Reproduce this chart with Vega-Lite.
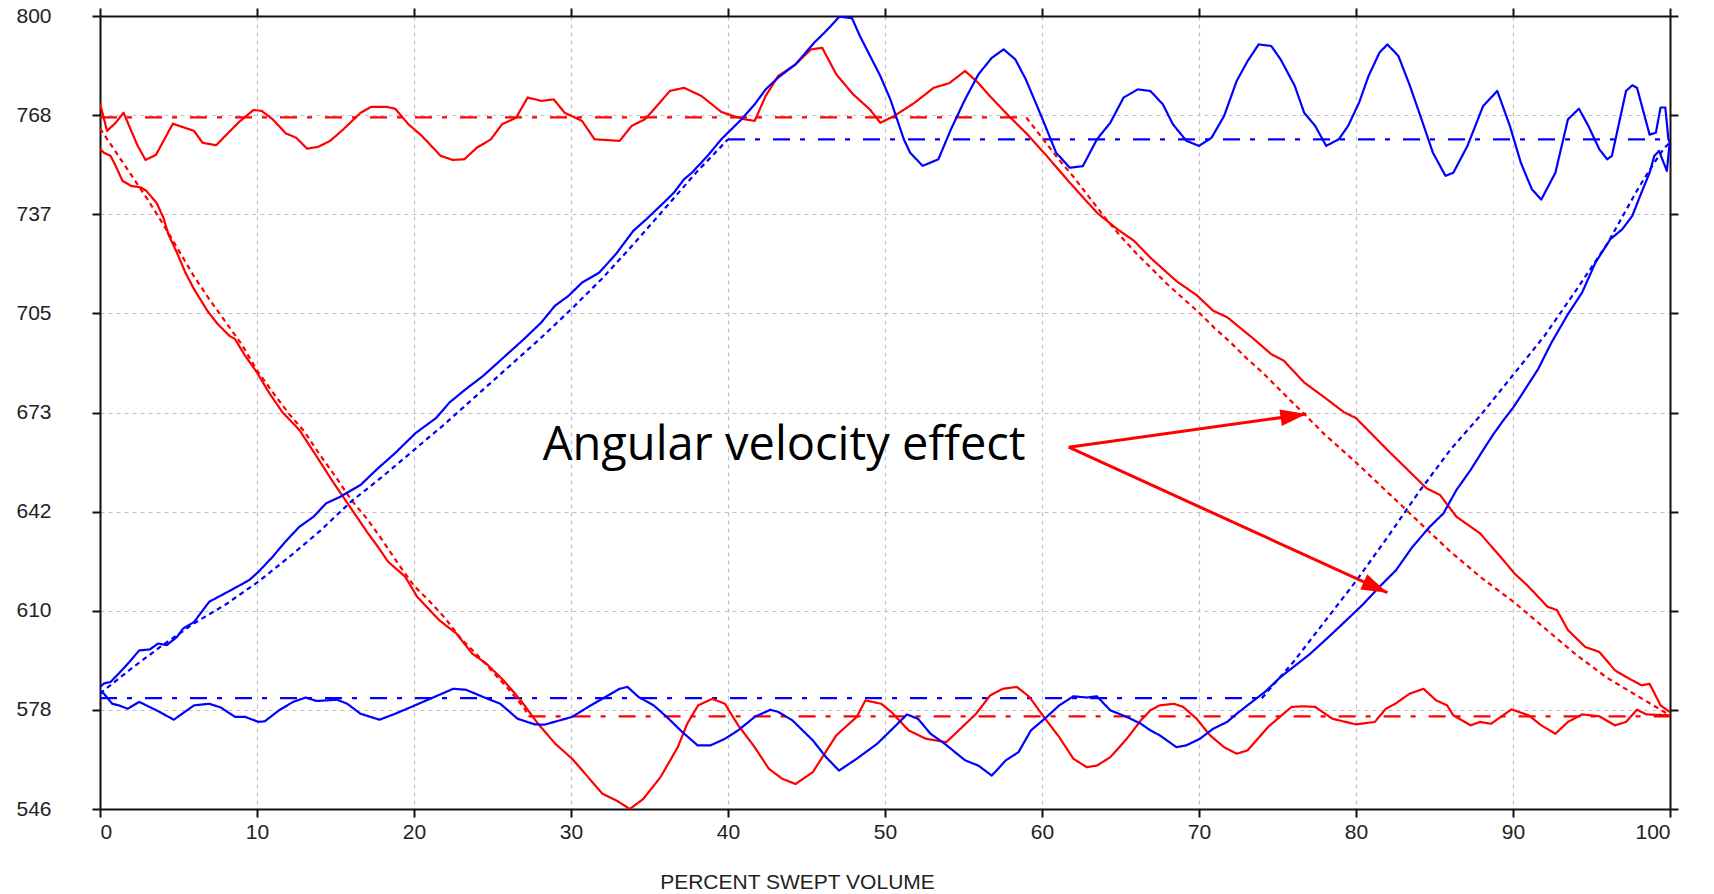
{
  "$schema": "https://vega.github.io/schema/vega-lite/v6.json",
  "width": 1570,
  "height": 793,
  "autosize": {"type": "none"},
  "padding": {"left": 100, "top": 16, "right": 44, "bottom": 85},
  "background": "white",
  "config": {
    "view": {"stroke": null},
    "axis": {
      "labelFont": "Liberation Sans",
      "labelFontSize": 21,
      "labelColor": "#222222",
      "titleFont": "Liberation Sans",
      "titleFontSize": 21,
      "titleFontWeight": "normal",
      "titleColor": "#222222",
      "domainColor": "#111111",
      "domainWidth": 2,
      "tickColor": "#111111",
      "tickWidth": 2,
      "tickSize": 8,
      "gridColor": "#c0c0c0",
      "gridDash": [4, 4],
      "gridWidth": 1.2
    }
  },
  "resolve": {"axis": {"x": "independent", "y": "independent"}},
  "layer": [
    {
      "data": {
        "values": [
          {"t": "R-hi", "x": 0, "y": 767.5}, {"t": "R-hi", "x": 59, "y": 767.5},
          {"t": "R-lo", "x": 27.3, "y": 575.7}, {"t": "R-lo", "x": 100, "y": 575.7},
          {"t": "B-hi", "x": 40, "y": 760.5}, {"t": "B-hi", "x": 100, "y": 760.5},
          {"t": "B-lo", "x": 0, "y": 581.5}, {"t": "B-lo", "x": 74, "y": 581.5},

          {"t": "R-r1", "x": 0, "y": 764}, {"t": "R-r1", "x": 1, "y": 756.5}, {"t": "R-r1", "x": 2, "y": 749},
          {"t": "R-r1", "x": 3, "y": 741.5}, {"t": "R-r1", "x": 4, "y": 733.5}, {"t": "R-r1", "x": 5, "y": 725},
          {"t": "R-r1", "x": 6, "y": 716.5}, {"t": "R-r1", "x": 7, "y": 709}, {"t": "R-r1", "x": 8, "y": 702},
          {"t": "R-r1", "x": 9, "y": 695}, {"t": "R-r1", "x": 10, "y": 686.5}, {"t": "R-r1", "x": 11, "y": 679.5},
          {"t": "R-r1", "x": 12, "y": 672.8}, {"t": "R-r1", "x": 13, "y": 667}, {"t": "R-r1", "x": 14, "y": 659.5},
          {"t": "R-r1", "x": 15, "y": 652.5}, {"t": "R-r1", "x": 16, "y": 645}, {"t": "R-r1", "x": 17, "y": 639},
          {"t": "R-r1", "x": 18, "y": 632}, {"t": "R-r1", "x": 19, "y": 624.5}, {"t": "R-r1", "x": 20, "y": 617.5},
          {"t": "R-r1", "x": 21, "y": 612.5}, {"t": "R-r1", "x": 22, "y": 607}, {"t": "R-r1", "x": 23, "y": 600.5},
          {"t": "R-r1", "x": 24, "y": 595.5}, {"t": "R-r1", "x": 25, "y": 590}, {"t": "R-r1", "x": 26, "y": 584.5},
          {"t": "R-r1", "x": 27, "y": 578.5}, {"t": "R-r1", "x": 27.3, "y": 575.7},

          {"t": "R-r2", "x": 59, "y": 767.5}, {"t": "R-r2", "x": 60, "y": 761}, {"t": "R-r2", "x": 61, "y": 754.5},
          {"t": "R-r2", "x": 62, "y": 748.5}, {"t": "R-r2", "x": 63, "y": 742}, {"t": "R-r2", "x": 64, "y": 735.5},
          {"t": "R-r2", "x": 65, "y": 729.5}, {"t": "R-r2", "x": 66, "y": 724}, {"t": "R-r2", "x": 67, "y": 719},
          {"t": "R-r2", "x": 68, "y": 714}, {"t": "R-r2", "x": 69, "y": 709.5}, {"t": "R-r2", "x": 70, "y": 705},
          {"t": "R-r2", "x": 71, "y": 700}, {"t": "R-r2", "x": 72, "y": 695.5}, {"t": "R-r2", "x": 73, "y": 690.5},
          {"t": "R-r2", "x": 74, "y": 686}, {"t": "R-r2", "x": 75, "y": 681}, {"t": "R-r2", "x": 76, "y": 676},
          {"t": "R-r2", "x": 77, "y": 671}, {"t": "R-r2", "x": 78, "y": 666}, {"t": "R-r2", "x": 79, "y": 661.5},
          {"t": "R-r2", "x": 80, "y": 657}, {"t": "R-r2", "x": 82, "y": 647.5}, {"t": "R-r2", "x": 84, "y": 638},
          {"t": "R-r2", "x": 86, "y": 628.5}, {"t": "R-r2", "x": 88, "y": 620}, {"t": "R-r2", "x": 90, "y": 612.5},
          {"t": "R-r2", "x": 92, "y": 604}, {"t": "R-r2", "x": 94, "y": 595.5}, {"t": "R-r2", "x": 96, "y": 588},
          {"t": "R-r2", "x": 98, "y": 582}, {"t": "R-r2", "x": 99, "y": 579}, {"t": "R-r2", "x": 100, "y": 576},

          {"t": "B-r1", "x": 0, "y": 583}, {"t": "B-r1", "x": 2, "y": 591}, {"t": "B-r1", "x": 4, "y": 598.5},
          {"t": "B-r1", "x": 6, "y": 605.5}, {"t": "B-r1", "x": 8, "y": 611.5}, {"t": "B-r1", "x": 10, "y": 618.5},
          {"t": "B-r1", "x": 12, "y": 626.5}, {"t": "B-r1", "x": 14, "y": 635}, {"t": "B-r1", "x": 16, "y": 644.5},
          {"t": "B-r1", "x": 18, "y": 652.5}, {"t": "B-r1", "x": 20, "y": 661}, {"t": "B-r1", "x": 22, "y": 669.5},
          {"t": "B-r1", "x": 24, "y": 678.5}, {"t": "B-r1", "x": 26, "y": 687.5}, {"t": "B-r1", "x": 28, "y": 696.5},
          {"t": "B-r1", "x": 30, "y": 706}, {"t": "B-r1", "x": 32, "y": 716}, {"t": "B-r1", "x": 34, "y": 727},
          {"t": "B-r1", "x": 36, "y": 738.5}, {"t": "B-r1", "x": 38, "y": 750}, {"t": "B-r1", "x": 40, "y": 760.5},

          {"t": "B-r2", "x": 74, "y": 581.5}, {"t": "B-r2", "x": 76, "y": 593}, {"t": "B-r2", "x": 78, "y": 606},
          {"t": "B-r2", "x": 80, "y": 619}, {"t": "B-r2", "x": 82, "y": 633}, {"t": "B-r2", "x": 84, "y": 647.5},
          {"t": "B-r2", "x": 86, "y": 661}, {"t": "B-r2", "x": 88, "y": 672.5}, {"t": "B-r2", "x": 90, "y": 685},
          {"t": "B-r2", "x": 92, "y": 697.5}, {"t": "B-r2", "x": 94, "y": 712}, {"t": "B-r2", "x": 96, "y": 727},
          {"t": "B-r2", "x": 98, "y": 745}, {"t": "B-r2", "x": 99, "y": 753}, {"t": "B-r2", "x": 99.6, "y": 757.5},
          {"t": "B-r2", "x": 100, "y": 759.5},

          {"t": "R-m1", "x": 0, "y": 772}, {"t": "R-m1", "x": 0.45, "y": 763.2}, {"t": "R-m1", "x": 1.0, "y": 765.8},
          {"t": "R-m1", "x": 1.5, "y": 769}, {"t": "R-m1", "x": 2.4, "y": 758.4}, {"t": "R-m1", "x": 2.9, "y": 753.9},
          {"t": "R-m1", "x": 3.56, "y": 755.5}, {"t": "R-m1", "x": 4.64, "y": 765.5}, {"t": "R-m1", "x": 5.99, "y": 763.2},
          {"t": "R-m1", "x": 6.53, "y": 759.4}, {"t": "R-m1", "x": 7.4, "y": 758.6}, {"t": "R-m1", "x": 8.8, "y": 765.8},
          {"t": "R-m1", "x": 9.78, "y": 769.9}, {"t": "R-m1", "x": 10.3, "y": 769.6}, {"t": "R-m1", "x": 11.0, "y": 766.9},
          {"t": "R-m1", "x": 11.84, "y": 762.4}, {"t": "R-m1", "x": 12.5, "y": 761}, {"t": "R-m1", "x": 13.19, "y": 757.5},
          {"t": "R-m1", "x": 13.9, "y": 758.1}, {"t": "R-m1", "x": 14.66, "y": 760}, {"t": "R-m1", "x": 15.5, "y": 763.7},
          {"t": "R-m1", "x": 16.6, "y": 769}, {"t": "R-m1", "x": 17.27, "y": 770.9}, {"t": "R-m1", "x": 18.24, "y": 770.9},
          {"t": "R-m1", "x": 18.8, "y": 770.3}, {"t": "R-m1", "x": 19.65, "y": 765.3}, {"t": "R-m1", "x": 20.5, "y": 761.6},
          {"t": "R-m1", "x": 21.7, "y": 755.2}, {"t": "R-m1", "x": 22.47, "y": 753.9}, {"t": "R-m1", "x": 23.2, "y": 754.1},
          {"t": "R-m1", "x": 24, "y": 757.8}, {"t": "R-m1", "x": 24.9, "y": 760.5}, {"t": "R-m1", "x": 25.6, "y": 765.3},
          {"t": "R-m1", "x": 26.5, "y": 767.4}, {"t": "R-m1", "x": 27.24, "y": 773.9}, {"t": "R-m1", "x": 28.1, "y": 772.8},
          {"t": "R-m1", "x": 28.9, "y": 773.3}, {"t": "R-m1", "x": 29.6, "y": 769}, {"t": "R-m1", "x": 30.7, "y": 766.4},
          {"t": "R-m1", "x": 31.5, "y": 760.5}, {"t": "R-m1", "x": 33.1, "y": 760}, {"t": "R-m1", "x": 33.86, "y": 764.8},
          {"t": "R-m1", "x": 34.7, "y": 766.9}, {"t": "R-m1", "x": 35.26, "y": 770}, {"t": "R-m1", "x": 36.3, "y": 776},
          {"t": "R-m1", "x": 37.2, "y": 777}, {"t": "R-m1", "x": 38.3, "y": 774.4}, {"t": "R-m1", "x": 39.57, "y": 769.3},
          {"t": "R-m1", "x": 40.43, "y": 767.8}, {"t": "R-m1", "x": 41.08, "y": 766.9}, {"t": "R-m1", "x": 41.7, "y": 766.4},
          {"t": "R-m1", "x": 42.4, "y": 774.4}, {"t": "R-m1", "x": 43.2, "y": 780.8}, {"t": "R-m1", "x": 44.3, "y": 784.5},
          {"t": "R-m1", "x": 45.28, "y": 789.3}, {"t": "R-m1", "x": 46, "y": 789.8}, {"t": "R-m1", "x": 46.9, "y": 781.3},
          {"t": "R-m1", "x": 47.97, "y": 774.9}, {"t": "R-m1", "x": 49.05, "y": 770}, {"t": "R-m1", "x": 49.7, "y": 765.8},
          {"t": "R-m1", "x": 50.56, "y": 767.9}, {"t": "R-m1", "x": 51.85, "y": 772.1}, {"t": "R-m1", "x": 53.1, "y": 777},
          {"t": "R-m1", "x": 54.1, "y": 778.5}, {"t": "R-m1", "x": 55.1, "y": 782.4}, {"t": "R-m1", "x": 55.95, "y": 778.5},
          {"t": "R-m1", "x": 56.8, "y": 773.7}, {"t": "R-m1", "x": 57.9, "y": 767.9}, {"t": "R-m1", "x": 58.97, "y": 762.6},
          {"t": "R-m1", "x": 60.3, "y": 755.2}, {"t": "R-m1", "x": 61.77, "y": 746.6}, {"t": "R-m1", "x": 63.5, "y": 737},
          {"t": "R-m1", "x": 64.8, "y": 731.7}, {"t": "R-m1", "x": 65.86, "y": 728}, {"t": "R-m1", "x": 66.9, "y": 722.6},
          {"t": "R-m1", "x": 68.56, "y": 715.1}, {"t": "R-m1", "x": 69.85, "y": 710.6}, {"t": "R-m1", "x": 70.9, "y": 705.6},
          {"t": "R-m1", "x": 71.8, "y": 703.5}, {"t": "R-m1", "x": 73.5, "y": 696.5}, {"t": "R-m1", "x": 74.6, "y": 691.7},
          {"t": "R-m1", "x": 75.4, "y": 689.6}, {"t": "R-m1", "x": 76.7, "y": 682.6}, {"t": "R-m1", "x": 78, "y": 677.8},
          {"t": "R-m1", "x": 79.2, "y": 673.2}, {"t": "R-m1", "x": 80, "y": 671.2}, {"t": "R-m1", "x": 82.1, "y": 660.5},
          {"t": "R-m1", "x": 83.3, "y": 654.6}, {"t": "R-m1", "x": 84.5, "y": 648.7}, {"t": "R-m1", "x": 85.35, "y": 646.6},
          {"t": "R-m1", "x": 86.4, "y": 639.6}, {"t": "R-m1", "x": 87.9, "y": 634.3}, {"t": "R-m1", "x": 89.2, "y": 626.8},
          {"t": "R-m1", "x": 90.1, "y": 621.4}, {"t": "R-m1", "x": 90.9, "y": 617.7}, {"t": "R-m1", "x": 92.2, "y": 610.8},
          {"t": "R-m1", "x": 92.8, "y": 609.7}, {"t": "R-m1", "x": 93.5, "y": 603.3}, {"t": "R-m1", "x": 94.6, "y": 597.9},
          {"t": "R-m1", "x": 95.5, "y": 596.3}, {"t": "R-m1", "x": 96.5, "y": 590.4}, {"t": "R-m1", "x": 97.2, "y": 588.3},
          {"t": "R-m1", "x": 98.2, "y": 585.6}, {"t": "R-m1", "x": 98.7, "y": 586.1}, {"t": "R-m1", "x": 99.4, "y": 579.2},
          {"t": "R-m1", "x": 100, "y": 577},

          {"t": "R-m2", "x": 0, "y": 757.5}, {"t": "R-m2", "x": 0.24, "y": 756.2}, {"t": "R-m2", "x": 0.67, "y": 755.2},
          {"t": "R-m2", "x": 1, "y": 752}, {"t": "R-m2", "x": 1.43, "y": 747.2}, {"t": "R-m2", "x": 1.97, "y": 745.6},
          {"t": "R-m2", "x": 2.6, "y": 745.1}, {"t": "R-m2", "x": 2.95, "y": 744}, {"t": "R-m2", "x": 3.6, "y": 740.2},
          {"t": "R-m2", "x": 4.04, "y": 735.4}, {"t": "R-m2", "x": 4.36, "y": 730}, {"t": "R-m2", "x": 4.9, "y": 724.2},
          {"t": "R-m2", "x": 5.44, "y": 717.8}, {"t": "R-m2", "x": 5.99, "y": 712.5}, {"t": "R-m2", "x": 6.85, "y": 705.5},
          {"t": "R-m2", "x": 7.5, "y": 701.3}, {"t": "R-m2", "x": 8.26, "y": 697.5}, {"t": "R-m2", "x": 8.6, "y": 696.5},
          {"t": "R-m2", "x": 9.24, "y": 691.2}, {"t": "R-m2", "x": 10, "y": 685.8}, {"t": "R-m2", "x": 10.76, "y": 679.4},
          {"t": "R-m2", "x": 11.6, "y": 673.2}, {"t": "R-m2", "x": 12.7, "y": 667.4}, {"t": "R-m2", "x": 13.8, "y": 658.9},
          {"t": "R-m2", "x": 14.9, "y": 650.3}, {"t": "R-m2", "x": 15.77, "y": 643.9}, {"t": "R-m2", "x": 17.07, "y": 634.3},
          {"t": "R-m2", "x": 17.7, "y": 630}, {"t": "R-m2", "x": 18.35, "y": 625.2}, {"t": "R-m2", "x": 19.44, "y": 620.4},
          {"t": "R-m2", "x": 20.2, "y": 614}, {"t": "R-m2", "x": 21.6, "y": 606.5}, {"t": "R-m2", "x": 22.7, "y": 602.2},
          {"t": "R-m2", "x": 23.7, "y": 595.8}, {"t": "R-m2", "x": 24.6, "y": 592.6}, {"t": "R-m2", "x": 25.7, "y": 587.2},
          {"t": "R-m2", "x": 26.8, "y": 580.8}, {"t": "R-m2", "x": 27.9, "y": 573.3}, {"t": "R-m2", "x": 29, "y": 566.9},
          {"t": "R-m2", "x": 30.07, "y": 562.1}, {"t": "R-m2", "x": 30.9, "y": 557.3}, {"t": "R-m2", "x": 32, "y": 550.9},
          {"t": "R-m2", "x": 32.9, "y": 548.7}, {"t": "R-m2", "x": 33.75, "y": 546}, {"t": "R-m2", "x": 34.6, "y": 549.2},
          {"t": "R-m2", "x": 35.7, "y": 556.2}, {"t": "R-m2", "x": 36.8, "y": 565.8}, {"t": "R-m2", "x": 37.4, "y": 573.3},
          {"t": "R-m2", "x": 38.1, "y": 579.2}, {"t": "R-m2", "x": 39, "y": 581.3}, {"t": "R-m2", "x": 39.8, "y": 579.7},
          {"t": "R-m2", "x": 40.65, "y": 572.8}, {"t": "R-m2", "x": 41.7, "y": 565.8}, {"t": "R-m2", "x": 42.6, "y": 558.9},
          {"t": "R-m2", "x": 43.45, "y": 555.7}, {"t": "R-m2", "x": 44.3, "y": 554}, {"t": "R-m2", "x": 45.4, "y": 557.8},
          {"t": "R-m2", "x": 46.9, "y": 569.6}, {"t": "R-m2", "x": 48.2, "y": 575.5}, {"t": "R-m2", "x": 48.75, "y": 580.8},
          {"t": "R-m2", "x": 49.76, "y": 579.7}, {"t": "R-m2", "x": 50.4, "y": 577.1}, {"t": "R-m2", "x": 51.5, "y": 571.2},
          {"t": "R-m2", "x": 52.6, "y": 568.5}, {"t": "R-m2", "x": 53.9, "y": 567.4}, {"t": "R-m2", "x": 54.7, "y": 571.2},
          {"t": "R-m2", "x": 55.8, "y": 576.5}, {"t": "R-m2", "x": 56.7, "y": 582.4}, {"t": "R-m2", "x": 57.5, "y": 584.5},
          {"t": "R-m2", "x": 58.4, "y": 585.1}, {"t": "R-m2", "x": 59.2, "y": 581.9}, {"t": "R-m2", "x": 60.04, "y": 576},
          {"t": "R-m2", "x": 61.1, "y": 569}, {"t": "R-m2", "x": 62, "y": 562.1}, {"t": "R-m2", "x": 62.85, "y": 559.4},
          {"t": "R-m2", "x": 63.5, "y": 559.9}, {"t": "R-m2", "x": 64.35, "y": 562.6}, {"t": "R-m2", "x": 65.4, "y": 568.5},
          {"t": "R-m2", "x": 66.3, "y": 574.4}, {"t": "R-m2", "x": 66.9, "y": 577.6}, {"t": "R-m2", "x": 67.5, "y": 579.2},
          {"t": "R-m2", "x": 68.4, "y": 579.7}, {"t": "R-m2", "x": 68.99, "y": 578.7}, {"t": "R-m2", "x": 69.85, "y": 574.9},
          {"t": "R-m2", "x": 70.7, "y": 569.6}, {"t": "R-m2", "x": 71.6, "y": 565.8}, {"t": "R-m2", "x": 72.4, "y": 563.7},
          {"t": "R-m2", "x": 73.1, "y": 564.8}, {"t": "R-m2", "x": 74.4, "y": 572.3}, {"t": "R-m2", "x": 75.9, "y": 578.7},
          {"t": "R-m2", "x": 76.7, "y": 578.9}, {"t": "R-m2", "x": 77.4, "y": 578.7}, {"t": "R-m2", "x": 78.5, "y": 574.9},
          {"t": "R-m2", "x": 80, "y": 573.1}, {"t": "R-m2", "x": 81.2, "y": 573.9}, {"t": "R-m2", "x": 81.9, "y": 578.1},
          {"t": "R-m2", "x": 82.5, "y": 579.7}, {"t": "R-m2", "x": 83.4, "y": 582.9}, {"t": "R-m2", "x": 84.3, "y": 584.5},
          {"t": "R-m2", "x": 85.1, "y": 580.8}, {"t": "R-m2", "x": 85.8, "y": 579.2}, {"t": "R-m2", "x": 86.2, "y": 576},
          {"t": "R-m2", "x": 87.3, "y": 572.8}, {"t": "R-m2", "x": 87.9, "y": 573.9}, {"t": "R-m2", "x": 88.6, "y": 573.3},
          {"t": "R-m2", "x": 89.9, "y": 577.9}, {"t": "R-m2", "x": 91, "y": 576}, {"t": "R-m2", "x": 91.8, "y": 572.8},
          {"t": "R-m2", "x": 92.7, "y": 570.1}, {"t": "R-m2", "x": 93.5, "y": 573.9}, {"t": "R-m2", "x": 94.4, "y": 576.3},
          {"t": "R-m2", "x": 95.5, "y": 575.7}, {"t": "R-m2", "x": 96.5, "y": 572.8}, {"t": "R-m2", "x": 97.2, "y": 573.9},
          {"t": "R-m2", "x": 97.9, "y": 577.8}, {"t": "R-m2", "x": 98.5, "y": 576.3}, {"t": "R-m2", "x": 100, "y": 576},

          {"t": "B-m1", "x": 0, "y": 585}, {"t": "B-m1", "x": 0.24, "y": 586.2}, {"t": "B-m1", "x": 0.67, "y": 586.7},
          {"t": "B-m1", "x": 1.2, "y": 589.4}, {"t": "B-m1", "x": 1.87, "y": 593.1}, {"t": "B-m1", "x": 2.5, "y": 596.8},
          {"t": "B-m1", "x": 3.17, "y": 597.1}, {"t": "B-m1", "x": 3.7, "y": 599}, {"t": "B-m1", "x": 4.25, "y": 598.5},
          {"t": "B-m1", "x": 4.9, "y": 601.1}, {"t": "B-m1", "x": 5.3, "y": 603.8}, {"t": "B-m1", "x": 5.99, "y": 605.9},
          {"t": "B-m1", "x": 6.96, "y": 612.4}, {"t": "B-m1", "x": 8.16, "y": 615.6}, {"t": "B-m1", "x": 9.5, "y": 619.3},
          {"t": "B-m1", "x": 10.1, "y": 622}, {"t": "B-m1", "x": 11, "y": 626.8}, {"t": "B-m1", "x": 11.8, "y": 631.6},
          {"t": "B-m1", "x": 12.7, "y": 636.4}, {"t": "B-m1", "x": 13.6, "y": 639.6}, {"t": "B-m1", "x": 14.4, "y": 643.9},
          {"t": "B-m1", "x": 15.3, "y": 646}, {"t": "B-m1", "x": 16.6, "y": 649.8}, {"t": "B-m1", "x": 17.7, "y": 655.1},
          {"t": "B-m1", "x": 18.8, "y": 660}, {"t": "B-m1", "x": 20.1, "y": 666.4}, {"t": "B-m1", "x": 21.4, "y": 671.2},
          {"t": "B-m1", "x": 22.26, "y": 676.2}, {"t": "B-m1", "x": 23.3, "y": 680.5}, {"t": "B-m1", "x": 24.4, "y": 684.7},
          {"t": "B-m1", "x": 25.7, "y": 690.6}, {"t": "B-m1", "x": 27, "y": 696.5}, {"t": "B-m1", "x": 28.1, "y": 701.8},
          {"t": "B-m1", "x": 28.98, "y": 707.2}, {"t": "B-m1", "x": 29.85, "y": 710.4}, {"t": "B-m1", "x": 30.7, "y": 714.6},
          {"t": "B-m1", "x": 31.8, "y": 717.8}, {"t": "B-m1", "x": 32.9, "y": 724}, {"t": "B-m1", "x": 33.97, "y": 731.2},
          {"t": "B-m1", "x": 34.8, "y": 734.9}, {"t": "B-m1", "x": 35.9, "y": 740.2}, {"t": "B-m1", "x": 36.55, "y": 743.4},
          {"t": "B-m1", "x": 37.2, "y": 747.7}, {"t": "B-m1", "x": 37.7, "y": 749.8}, {"t": "B-m1", "x": 38.7, "y": 755.2},
          {"t": "B-m1", "x": 39.57, "y": 760.5}, {"t": "B-m1", "x": 40.86, "y": 766.9}, {"t": "B-m1", "x": 41.7, "y": 771.7},
          {"t": "B-m1", "x": 42.4, "y": 776.5}, {"t": "B-m1", "x": 43.2, "y": 780.3}, {"t": "B-m1", "x": 44.3, "y": 784.5},
          {"t": "B-m1", "x": 45.5, "y": 791.5}, {"t": "B-m1", "x": 46.25, "y": 795.2}, {"t": "B-m1", "x": 47.1, "y": 799.8},
          {"t": "B-m1", "x": 47.9, "y": 799.3}, {"t": "B-m1", "x": 48.4, "y": 793.6}, {"t": "B-m1", "x": 49.7, "y": 780.8},
          {"t": "B-m1", "x": 50.34, "y": 773.3}, {"t": "B-m1", "x": 51.2, "y": 760.5}, {"t": "B-m1", "x": 51.6, "y": 756.2},
          {"t": "B-m1", "x": 52.4, "y": 752}, {"t": "B-m1", "x": 53.4, "y": 754.1}, {"t": "B-m1", "x": 54.2, "y": 763.7},
          {"t": "B-m1", "x": 55.1, "y": 773.3}, {"t": "B-m1", "x": 55.95, "y": 781.3}, {"t": "B-m1", "x": 56.8, "y": 786.6},
          {"t": "B-m1", "x": 57.56, "y": 789.3}, {"t": "B-m1", "x": 58.3, "y": 786.1}, {"t": "B-m1", "x": 58.97, "y": 779.7},
          {"t": "B-m1", "x": 60.04, "y": 766.9}, {"t": "B-m1", "x": 60.9, "y": 756.2}, {"t": "B-m1", "x": 61.77, "y": 751.4},
          {"t": "B-m1", "x": 62.6, "y": 751.9}, {"t": "B-m1", "x": 63.5, "y": 760.5}, {"t": "B-m1", "x": 64.35, "y": 765.8},
          {"t": "B-m1", "x": 65.2, "y": 773.9}, {"t": "B-m1", "x": 66.1, "y": 776.5}, {"t": "B-m1", "x": 66.9, "y": 776},
          {"t": "B-m1", "x": 67.7, "y": 771.7}, {"t": "B-m1", "x": 68.34, "y": 765.3}, {"t": "B-m1", "x": 69.2, "y": 760},
          {"t": "B-m1", "x": 70, "y": 758.4}, {"t": "B-m1", "x": 70.8, "y": 761}, {"t": "B-m1", "x": 71.6, "y": 768},
          {"t": "B-m1", "x": 72.4, "y": 779.2}, {"t": "B-m1", "x": 73.1, "y": 785.6}, {"t": "B-m1", "x": 73.8, "y": 790.9},
          {"t": "B-m1", "x": 74.6, "y": 790.4}, {"t": "B-m1", "x": 75.2, "y": 786.1}, {"t": "B-m1", "x": 76.1, "y": 777.6},
          {"t": "B-m1", "x": 76.7, "y": 769}, {"t": "B-m1", "x": 77.4, "y": 764.8}, {"t": "B-m1", "x": 78.1, "y": 758.4},
          {"t": "B-m1", "x": 78.9, "y": 760.5}, {"t": "B-m1", "x": 79.5, "y": 764.8}, {"t": "B-m1", "x": 80.2, "y": 772.3},
          {"t": "B-m1", "x": 80.8, "y": 780.8}, {"t": "B-m1", "x": 81.5, "y": 788.3}, {"t": "B-m1", "x": 82, "y": 790.9},
          {"t": "B-m1", "x": 82.7, "y": 787.2}, {"t": "B-m1", "x": 83.4, "y": 778.1}, {"t": "B-m1", "x": 84.1, "y": 768},
          {"t": "B-m1", "x": 84.9, "y": 756.2}, {"t": "B-m1", "x": 85.7, "y": 748.8}, {"t": "B-m1", "x": 86.2, "y": 749.8},
          {"t": "B-m1", "x": 87.1, "y": 758.4}, {"t": "B-m1", "x": 88.1, "y": 771.2}, {"t": "B-m1", "x": 89, "y": 776},
          {"t": "B-m1", "x": 89.8, "y": 764.8}, {"t": "B-m1", "x": 90.5, "y": 753}, {"t": "B-m1", "x": 91.2, "y": 744.5},
          {"t": "B-m1", "x": 91.8, "y": 741.2}, {"t": "B-m1", "x": 92.7, "y": 749.8}, {"t": "B-m1", "x": 93.5, "y": 766.9},
          {"t": "B-m1", "x": 94.2, "y": 770.3}, {"t": "B-m1", "x": 94.8, "y": 764.8}, {"t": "B-m1", "x": 95.5, "y": 757.3},
          {"t": "B-m1", "x": 96, "y": 754.1}, {"t": "B-m1", "x": 96.3, "y": 755.2}, {"t": "B-m1", "x": 97.2, "y": 776},
          {"t": "B-m1", "x": 97.6, "y": 777.8}, {"t": "B-m1", "x": 97.9, "y": 777}, {"t": "B-m1", "x": 98.7, "y": 762},
          {"t": "B-m1", "x": 99.1, "y": 762.6}, {"t": "B-m1", "x": 99.4, "y": 770.7}, {"t": "B-m1", "x": 99.7, "y": 770.7},
          {"t": "B-m1", "x": 99.9, "y": 760.5}, {"t": "B-m1", "x": 100, "y": 759.4},

          {"t": "B-m2", "x": 0, "y": 583.5}, {"t": "B-m2", "x": 0.24, "y": 583}, {"t": "B-m2", "x": 0.78, "y": 579.7},
          {"t": "B-m2", "x": 1.2, "y": 579.2}, {"t": "B-m2", "x": 1.76, "y": 578.1}, {"t": "B-m2", "x": 2.5, "y": 580.3},
          {"t": "B-m2", "x": 3.6, "y": 577.6}, {"t": "B-m2", "x": 4.7, "y": 574.6}, {"t": "B-m2", "x": 5.99, "y": 579.2},
          {"t": "B-m2", "x": 6.96, "y": 579.7}, {"t": "B-m2", "x": 7.7, "y": 578.5}, {"t": "B-m2", "x": 8.6, "y": 575.5},
          {"t": "B-m2", "x": 9.24, "y": 575.5}, {"t": "B-m2", "x": 10.1, "y": 573.9}, {"t": "B-m2", "x": 10.5, "y": 574.1},
          {"t": "B-m2", "x": 11.4, "y": 577.6}, {"t": "B-m2", "x": 12.3, "y": 580.3}, {"t": "B-m2", "x": 13.1, "y": 581.7},
          {"t": "B-m2", "x": 13.8, "y": 580.6}, {"t": "B-m2", "x": 15.1, "y": 581}, {"t": "B-m2", "x": 15.75, "y": 579.7},
          {"t": "B-m2", "x": 16.6, "y": 576.5}, {"t": "B-m2", "x": 17.8, "y": 574.6}, {"t": "B-m2", "x": 18.8, "y": 576.5},
          {"t": "B-m2", "x": 20.06, "y": 579.2}, {"t": "B-m2", "x": 21.4, "y": 582.1}, {"t": "B-m2", "x": 22.5, "y": 584.5},
          {"t": "B-m2", "x": 23.3, "y": 584.2}, {"t": "B-m2", "x": 24.4, "y": 581.9}, {"t": "B-m2", "x": 25.5, "y": 579.7},
          {"t": "B-m2", "x": 26.6, "y": 574.9}, {"t": "B-m2", "x": 27.7, "y": 573.1}, {"t": "B-m2", "x": 28.3, "y": 573},
          {"t": "B-m2", "x": 30.07, "y": 575.5}, {"t": "B-m2", "x": 31.1, "y": 578.7}, {"t": "B-m2", "x": 32.2, "y": 581.9},
          {"t": "B-m2", "x": 33.1, "y": 584.5}, {"t": "B-m2", "x": 33.6, "y": 585.1}, {"t": "B-m2", "x": 34.3, "y": 581.9},
          {"t": "B-m2", "x": 35.26, "y": 579.2}, {"t": "B-m2", "x": 36.1, "y": 575.5}, {"t": "B-m2", "x": 37.1, "y": 570.6},
          {"t": "B-m2", "x": 38.06, "y": 566.4}, {"t": "B-m2", "x": 38.9, "y": 566.4}, {"t": "B-m2", "x": 39.8, "y": 568.5},
          {"t": "B-m2", "x": 40.65, "y": 571.2}, {"t": "B-m2", "x": 41.7, "y": 575.5}, {"t": "B-m2", "x": 42.7, "y": 577.8},
          {"t": "B-m2", "x": 43.2, "y": 577.1}, {"t": "B-m2", "x": 44.1, "y": 574.4}, {"t": "B-m2", "x": 45.4, "y": 568},
          {"t": "B-m2", "x": 46.25, "y": 562.6}, {"t": "B-m2", "x": 47.07, "y": 558.3}, {"t": "B-m2", "x": 48.2, "y": 562.1},
          {"t": "B-m2", "x": 49.5, "y": 566.9}, {"t": "B-m2", "x": 50.6, "y": 572.3}, {"t": "B-m2", "x": 51.4, "y": 576.3},
          {"t": "B-m2", "x": 52.1, "y": 574.9}, {"t": "B-m2", "x": 52.9, "y": 570.1}, {"t": "B-m2", "x": 53.8, "y": 566.9},
          {"t": "B-m2", "x": 55.1, "y": 561.6}, {"t": "B-m2", "x": 55.95, "y": 559.9}, {"t": "B-m2", "x": 56.8, "y": 556.7},
          {"t": "B-m2", "x": 57.7, "y": 561.6}, {"t": "B-m2", "x": 58.5, "y": 564.2}, {"t": "B-m2", "x": 59.3, "y": 571.2},
          {"t": "B-m2", "x": 60.3, "y": 575.5}, {"t": "B-m2", "x": 61.1, "y": 579.2}, {"t": "B-m2", "x": 62, "y": 582.1},
          {"t": "B-m2", "x": 62.85, "y": 581.7}, {"t": "B-m2", "x": 63.5, "y": 582.1}, {"t": "B-m2", "x": 64.35, "y": 577.6},
          {"t": "B-m2", "x": 65.4, "y": 575.5}, {"t": "B-m2", "x": 66.3, "y": 573.3}, {"t": "B-m2", "x": 66.9, "y": 571.2},
          {"t": "B-m2", "x": 67.5, "y": 569.6}, {"t": "B-m2", "x": 68.56, "y": 565.8}, {"t": "B-m2", "x": 69.2, "y": 566.4},
          {"t": "B-m2", "x": 70.06, "y": 568.5}, {"t": "B-m2", "x": 70.9, "y": 571.7}, {"t": "B-m2", "x": 71.8, "y": 573.9},
          {"t": "B-m2", "x": 72.4, "y": 576.5}, {"t": "B-m2", "x": 73.5, "y": 580.8}, {"t": "B-m2", "x": 74.2, "y": 583.5},
          {"t": "B-m2", "x": 75.2, "y": 588.3}, {"t": "B-m2", "x": 76.3, "y": 592.6}, {"t": "B-m2", "x": 77.1, "y": 595.8},
          {"t": "B-m2", "x": 77.8, "y": 599}, {"t": "B-m2", "x": 78.6, "y": 602.7}, {"t": "B-m2", "x": 79.5, "y": 607},
          {"t": "B-m2", "x": 80.4, "y": 611.3}, {"t": "B-m2", "x": 81.5, "y": 617.2}, {"t": "B-m2", "x": 82.55, "y": 622.5},
          {"t": "B-m2", "x": 83.6, "y": 630}, {"t": "B-m2", "x": 84.7, "y": 636.4}, {"t": "B-m2", "x": 85.57, "y": 640.7},
          {"t": "B-m2", "x": 86.4, "y": 648.2}, {"t": "B-m2", "x": 87.3, "y": 654.6}, {"t": "B-m2", "x": 88.1, "y": 661},
          {"t": "B-m2", "x": 88.8, "y": 666.4}, {"t": "B-m2", "x": 89.4, "y": 670.6}, {"t": "B-m2", "x": 90, "y": 674.5},
          {"t": "B-m2", "x": 90.5, "y": 678.3}, {"t": "B-m2", "x": 91.6, "y": 686.9}, {"t": "B-m2", "x": 92.45, "y": 695.4},
          {"t": "B-m2", "x": 93.5, "y": 704.5}, {"t": "B-m2", "x": 94.4, "y": 711.4}, {"t": "B-m2", "x": 95.25, "y": 721},
          {"t": "B-m2", "x": 96.2, "y": 728.5}, {"t": "B-m2", "x": 96.96, "y": 731.7}, {"t": "B-m2", "x": 97.6, "y": 736},
          {"t": "B-m2", "x": 98.1, "y": 742.4}, {"t": "B-m2", "x": 98.7, "y": 749.8}, {"t": "B-m2", "x": 99, "y": 755.2},
          {"t": "B-m2", "x": 99.3, "y": 756.8}, {"t": "B-m2", "x": 99.8, "y": 750.4}, {"t": "B-m2", "x": 100, "y": 760.5}
        ]
      },
      "mark": {"type": "line", "clip": true, "strokeCap": "butt", "strokeJoin": "round"},
      "encoding": {
        "x": {
          "field": "x", "type": "quantitative",
          "scale": {"domain": [0, 100], "nice": false, "zero": false},
          "axis": {
            "orient": "bottom",
            "values": [0, 10, 20, 30, 40, 50, 60, 70, 80, 90, 100],
            "grid": true,
            "labelPadding": 4,
            "labelBaseline": "top",
            "title": "PERCENT SWEPT VOLUME",
            "titleX": 697,
            "titleY": 79,
            "titleAlign": "center",
            "titleBaseline": "alphabetic"
          }
        },
        "y": {
          "field": "y", "type": "quantitative",
          "scale": {"domain": [546, 800], "nice": false, "zero": false},
          "axis": {
            "orient": "left",
            "values": [546, 577.75, 609.5, 641.25, 673, 704.75, 736.5, 768.25, 800],
            "labelExpr": "['546','578','610','642','673','705','737','768','800'][round((datum.value - 546) / 31.75)]",
            "grid": true,
            "labelAlign": "right",
            "labelBaseline": "middle",
            "labelPadding": 41,
            "title": null
          }
        },
        "detail": {"field": "t"},
        "color": {
          "field": "t", "type": "nominal", "legend": null,
          "scale": {
            "domain": ["R-hi", "R-lo", "B-hi", "B-lo", "R-r1", "R-r2", "B-r1", "B-r2", "R-m1", "R-m2", "B-m1", "B-m2"],
            "range": ["#ff0000", "#ff0000", "#0000ff", "#0000ff", "#ff0000", "#ff0000", "#0000ff", "#0000ff", "#ff0000", "#ff0000", "#0000ff", "#0000ff"]
          }
        },
        "strokeDash": {
          "field": "t", "type": "nominal", "legend": null,
          "scale": {
            "domain": ["R-hi", "R-lo", "B-hi", "B-lo", "R-r1", "R-r2", "B-r1", "B-r2", "R-m1", "R-m2", "B-m1", "B-m2"],
            "range": [[17, 10, 5, 13], [17, 10, 5, 13], [17, 10, 5, 13], [17, 10, 5, 13], [5, 4], [5, 4], [5, 4], [5, 4], [1, 0], [1, 0], [1, 0], [1, 0]]
          }
        },
        "strokeWidth": {
          "field": "t", "type": "nominal", "legend": null,
          "scale": {
            "domain": ["R-hi", "R-lo", "B-hi", "B-lo", "R-r1", "R-r2", "B-r1", "B-r2", "R-m1", "R-m2", "B-m1", "B-m2"],
            "range": [2.2, 2.2, 2.2, 2.2, 1.3, 1.3, 1.3, 1.3, 1.35, 1.35, 1.35, 1.35]
          }
        }
      }
    },
    {
      "data": {
        "values": [
          {"x0": 61.7, "y0": 661.9, "x1": 76.84, "y1": 672.5, "heading": 352},
          {"x0": 61.7, "y0": 661.9, "x1": 82.0, "y1": 615.3, "heading": 24.5}
        ]
      },
      "layer": [
        {
          "mark": {"type": "rule", "color": "#ff0000", "strokeWidth": 3},
          "encoding": {
            "x": {"field": "x0", "type": "quantitative", "axis": null, "scale": {"domain": [0, 100], "nice": false, "zero": false}},
            "y": {"field": "y0", "type": "quantitative", "axis": null, "scale": {"domain": [546, 800], "nice": false, "zero": false}},
            "x2": {"field": "x1"},
            "y2": {"field": "y1"}
          }
        },
        {
          "mark": {"type": "point", "filled": true, "shape": "M0,0L-1,-0.32L-1,0.32Z", "size": 2704, "color": "#ff0000", "opacity": 1, "strokeWidth": 0},
          "encoding": {
            "x": {"field": "x1", "type": "quantitative", "axis": null, "scale": {"domain": [0, 100], "nice": false, "zero": false}},
            "y": {"field": "y1", "type": "quantitative", "axis": null, "scale": {"domain": [546, 800], "nice": false, "zero": false}},
            "angle": {"field": "heading", "type": "quantitative", "scale": null}
          }
        }
      ]
    },
    {
      "data": {"values": [{"label": "Angular velocity effect", "x": 28.2, "y": 657.8}]},
      "mark": {"type": "text", "font": "Open Sans", "fontSize": 47, "color": "#000000", "align": "left", "baseline": "alphabetic"},
      "encoding": {
        "x": {"field": "x", "type": "quantitative", "axis": null, "scale": {"domain": [0, 100], "nice": false, "zero": false}},
        "y": {"field": "y", "type": "quantitative", "axis": null, "scale": {"domain": [546, 800], "nice": false, "zero": false}},
        "text": {"field": "label"}
      }
    },
    {
      "data": {"values": [{"x": 0, "y": 546}]},
      "mark": {"type": "point", "opacity": 0},
      "encoding": {
        "x": {
          "field": "x", "type": "quantitative",
          "scale": {"domain": [0, 100], "nice": false, "zero": false},
          "axis": {"orient": "top", "values": [0, 10, 20, 30, 40, 50, 60, 70, 80, 90, 100], "labels": false, "grid": false, "title": null}
        },
        "y": {
          "field": "y", "type": "quantitative",
          "scale": {"domain": [546, 800], "nice": false, "zero": false},
          "axis": {"orient": "right", "values": [546, 577.75, 609.5, 641.25, 673, 704.75, 736.5, 768.25, 800], "labels": false, "grid": false, "title": null}
        }
      }
    }
  ]
}
